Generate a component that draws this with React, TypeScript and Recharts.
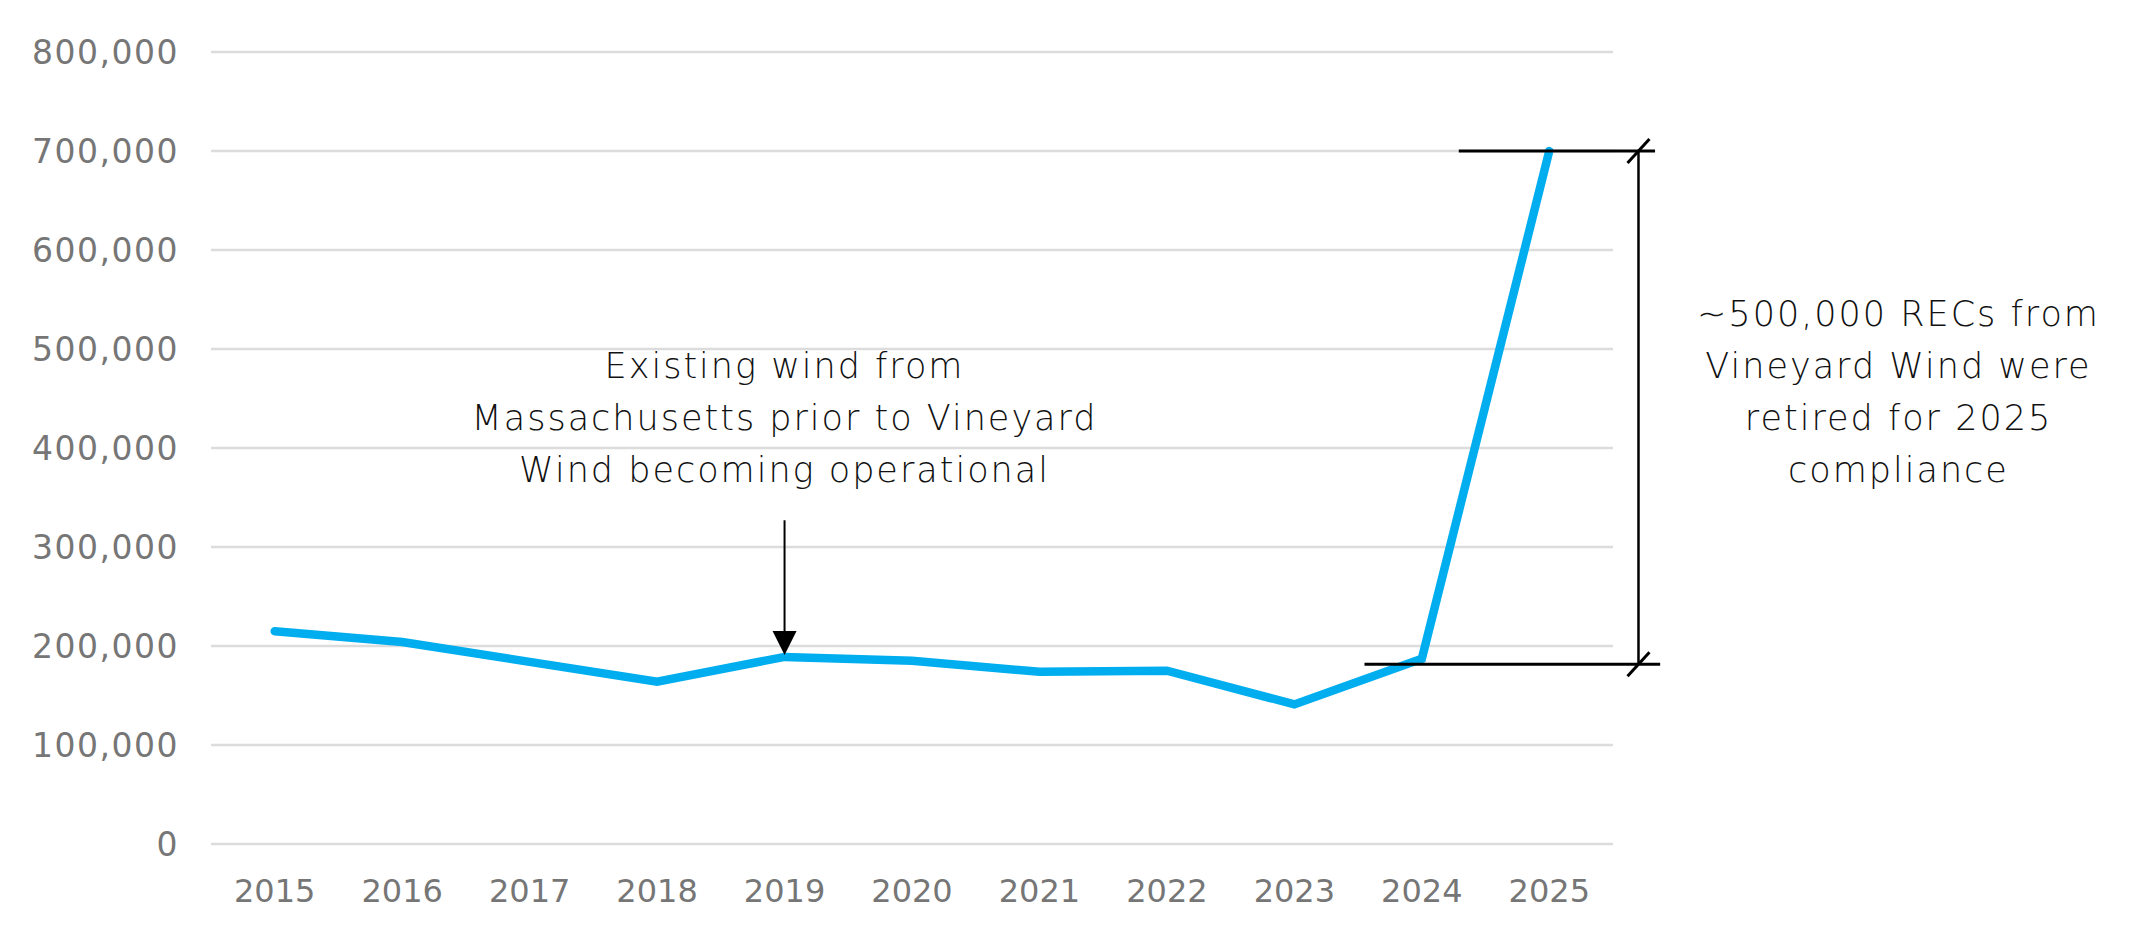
import { LineChart, Line, XAxis, YAxis, CartesianGrid, ReferenceLine, ReferenceDot } from 'recharts'

// MA offshore wind RECs retired per compliance year
const years = [2015, 2016, 2017, 2018, 2019, 2020, 2021, 2022, 2023, 2024, 2025]
const recs = [215000, 204000, 184000, 164000, 189000, 185000, 174000, 175000, 141000, 187000, 700000]
const yTicks = [0, 100000, 200000, 300000, 400000, 500000, 600000, 700000, 800000]

const leftNote = ['Existing wind from', 'Massachusetts prior to Vineyard', 'Wind becoming operational']
const rightNote = ['~500,000 RECs from', 'Vineyard Wind were', 'retired for 2025', 'compliance']

// bracket around the Vineyard Wind jump
const bracketTop = 700000
const bracketBottom = 181500

const data = years.map((year, i) => ({ year, recs: recs[i] }))

const font = 'DejaVu Sans'
const noteStyle = { fontFamily: font, fontSize: 35, fontWeight: 200, letterSpacing: 2, fill: '#111' }

const NoteText = ({ cx, cy, lines }: { cx?: number; cy?: number; lines: string[] }) => (
  <text x={cx} y={cy} textAnchor="middle" {...noteStyle}>
    {lines.map((l, i) => (
      <tspan key={i} x={cx} dy={i === 0 ? 0 : 52}>
        {l}
      </tspan>
    ))}
  </text>
)

const Arrow = (props: any) => {
  const { x1, y1, x2, y2 } = props
  const head = 24
  return (
    <g>
      <line x1={x1} y1={y1} x2={x2} y2={y2 - head + 2} stroke="#000" strokeWidth={2} />
      <polygon points={`${x2 - 12},${y2 - head} ${x2 + 12},${y2 - head} ${x2},${y2}`} fill="#000" />
    </g>
  )
}

export default function App() {
  return (
    <div style={{ position: 'absolute', left: 0, top: 0 }}>
      <LineChart
        width={2130}
        height={945}
        data={data}
        margin={{ top: 52, right: 517, bottom: 0, left: 0 }}
        style={{ fontFamily: font }}
      >
        <CartesianGrid vertical={false} stroke="#dcdcdc" strokeWidth={2.5} />
        <XAxis
          dataKey="year"
          type="number"
          domain={[2014.5, 2025.5]}
          ticks={years}
          tickFormatter={(v) => String(v)}
          axisLine={false}
          tickLine={false}
          tickSize={0}
          tickMargin={35}
          height={101}
          interval={0}
          tick={{ fontSize: 32, fill: '#767676', fontFamily: font }}
        />
        <YAxis
          domain={[0, 800000]}
          ticks={yTicks}
          tickFormatter={(v) => Number(v).toLocaleString('en-US')}
          axisLine={false}
          tickLine={false}
          tickSize={0}
          tickMargin={32}
          width={211}
          interval={0}
          tick={{ fontSize: 33, fill: '#767676', fontFamily: font, letterSpacing: 1.5 }}
        />
        <Line
          type="linear"
          dataKey="recs"
          stroke="#00aeef"
          strokeWidth={8.5}
          strokeLinecap="round"
          dot={false}
          activeDot={false}
          isAnimationActive={false}
        />
        <ReferenceLine
          segment={[{ x: 2024.29, y: bracketTop }, { x: 2025.83, y: bracketTop }]}
          stroke="#000"
          strokeWidth={3}
          ifOverflow="visible"
        />
        <ReferenceLine
          segment={[{ x: 2023.55, y: bracketBottom }, { x: 2025.87, y: bracketBottom }]}
          stroke="#000"
          strokeWidth={3}
          ifOverflow="visible"
        />
        <ReferenceLine
          segment={[{ x: 2025.7, y: bracketTop }, { x: 2025.7, y: bracketBottom }]}
          stroke="#000"
          strokeWidth={2.5}
          ifOverflow="visible"
        />
        <ReferenceLine
          segment={[{ x: 2025.614, y: bracketTop - 12100 }, { x: 2025.786, y: bracketTop + 12100 }]}
          stroke="#000"
          strokeWidth={3}
          ifOverflow="visible"
        />
        <ReferenceLine
          segment={[{ x: 2025.614, y: bracketBottom - 12100 }, { x: 2025.786, y: bracketBottom + 12100 }]}
          stroke="#000"
          strokeWidth={3}
          ifOverflow="visible"
        />
        <ReferenceLine
          segment={[{ x: 2019, y: 327000 }, { x: 2019, y: 191000 }]}
          ifOverflow="visible"
          shape={Arrow}
        />
        <ReferenceDot
          x={2019}
          y={470500}
          r={0}
          ifOverflow="visible"
          shape={(p: any) => <NoteText cx={p.cx} cy={p.cy} lines={leftNote} />}
        />
        <ReferenceDot
          x={2027.74}
          y={523000}
          r={0}
          ifOverflow="visible"
          shape={(p: any) => <NoteText cx={p.cx} cy={p.cy} lines={rightNote} />}
        />
      </LineChart>
    </div>
  )
}
